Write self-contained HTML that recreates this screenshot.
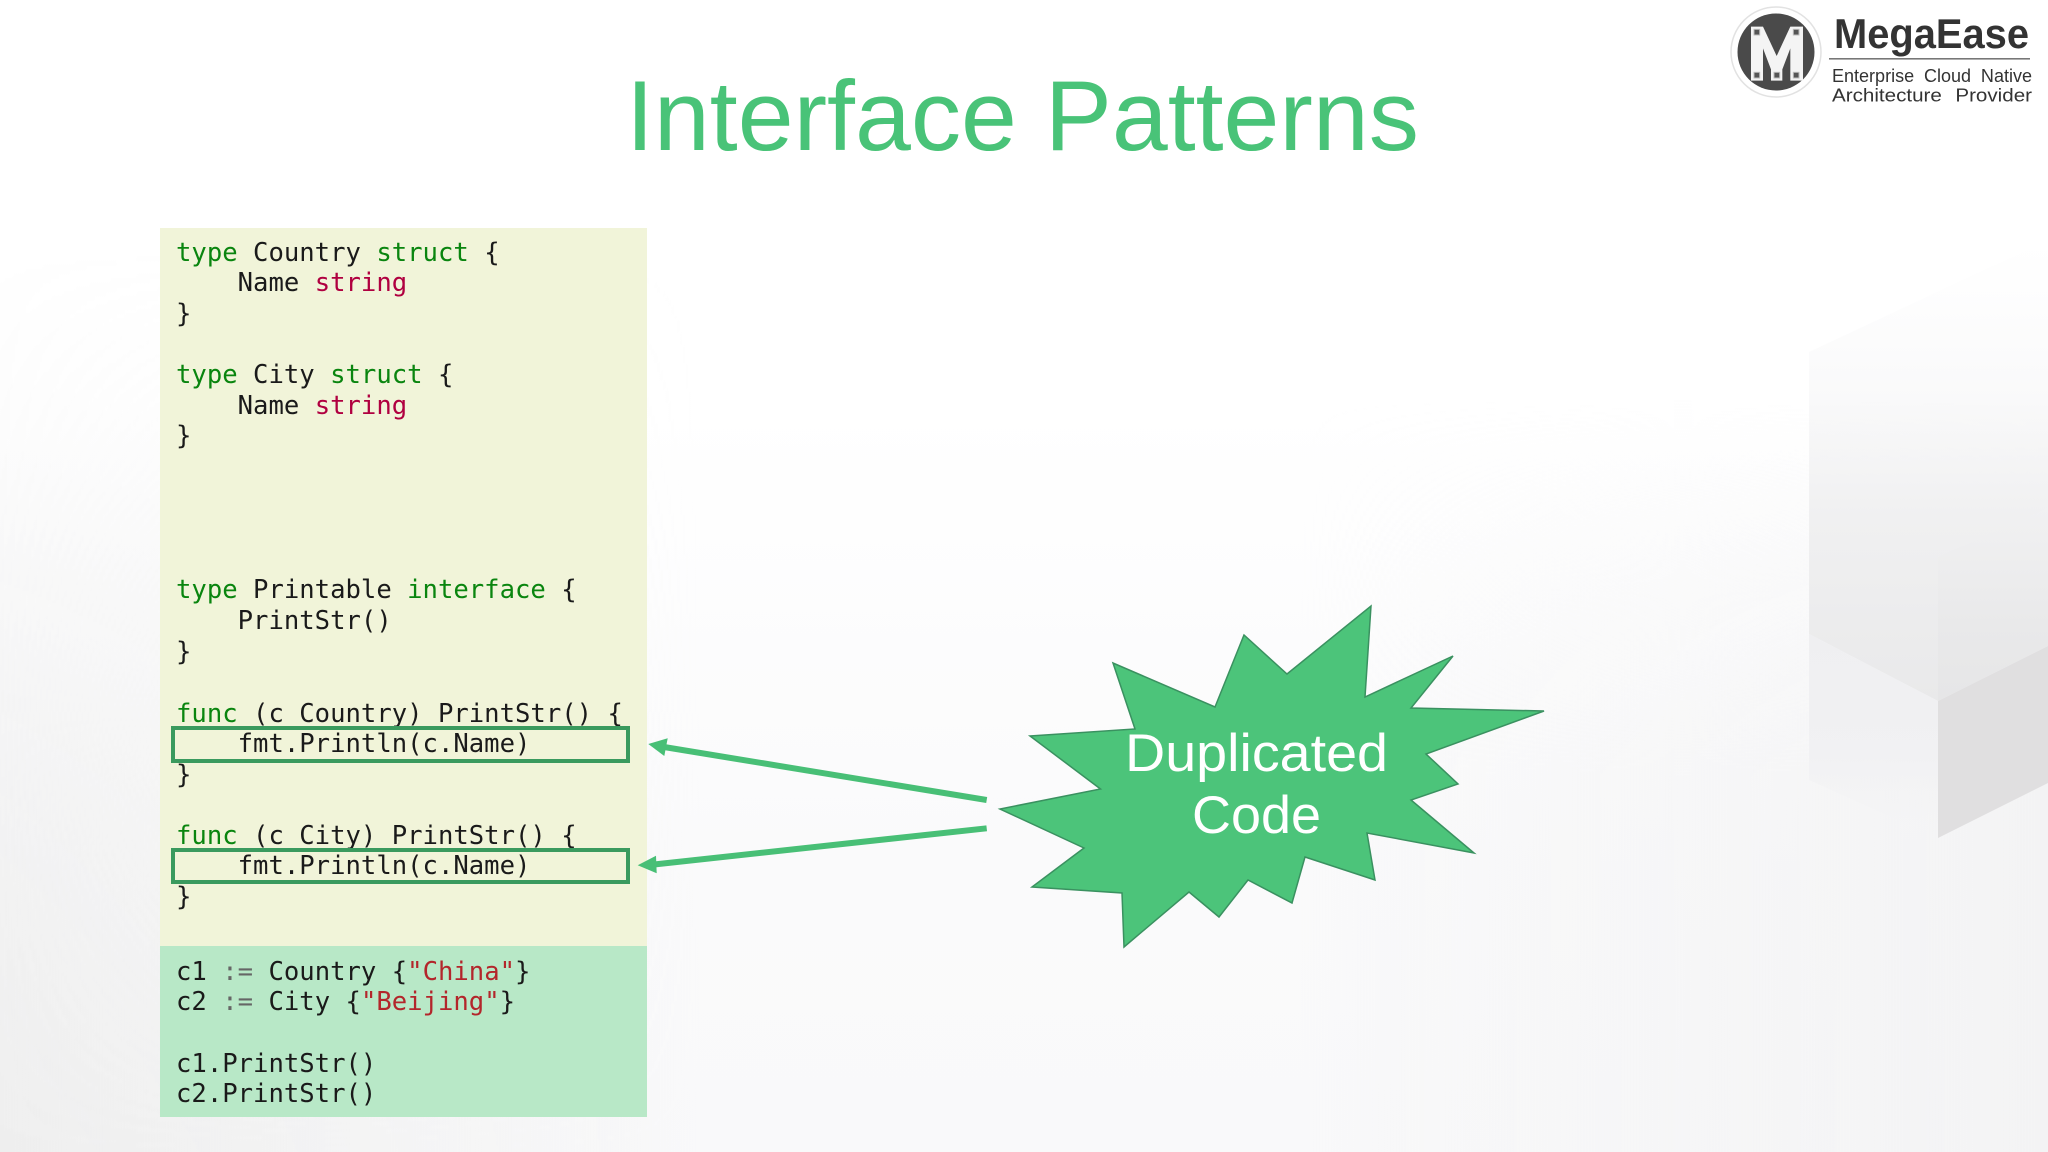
<!DOCTYPE html>
<html>
<head>
<meta charset="utf-8">
<style>
html,body{margin:0;padding:0;background:#fff;}
body{width:2048px;height:1152px;overflow:hidden;}
svg{display:block;}
.c{font-family:"DejaVu Sans Mono","Liberation Mono",monospace;font-size:25.6px;fill:#1a1a1a;white-space:pre;}
.k{fill:#0a850f;}
.t{fill:#b00040;}
.s{fill:#b3262b;}
.o{fill:#666;}
.g{fill:#49c378;}
.sans{font-family:"Liberation Sans",sans-serif;}
</style>
</head>
<body>
<svg width="2048" height="1152" viewBox="0 0 2048 1152" xmlns="http://www.w3.org/2000/svg">
<defs>
<linearGradient id="bg" x1="0" y1="0" x2="0" y2="1">
<stop offset="0" stop-color="#ffffff"/><stop offset="0.35" stop-color="#ffffff"/><stop offset="0.75" stop-color="#fafafb"/><stop offset="1" stop-color="#f9f9fa"/>
</linearGradient>
<linearGradient id="lft" x1="0" y1="0" x2="1" y2="0">
<stop offset="0" stop-color="#eeeeee" stop-opacity="1"/><stop offset="1" stop-color="#eeeeee" stop-opacity="0"/>
</linearGradient>
<linearGradient id="lftV" x1="0" y1="0" x2="0" y2="1">
<stop offset="0" stop-color="#000"/><stop offset="0.25" stop-color="#333"/><stop offset="0.6" stop-color="#999"/><stop offset="1" stop-color="#fff"/>
</linearGradient>
<mask id="lm"><rect x="0" y="250" width="700" height="902" fill="url(#lftV)"/></mask>
<linearGradient id="rgt" x1="0" y1="0" x2="1" y2="0">
<stop offset="0" stop-color="#f3f3f4" stop-opacity="0"/><stop offset="1" stop-color="#f3f3f4" stop-opacity="1"/>
</linearGradient>
<linearGradient id="rgtV" x1="0" y1="0" x2="0" y2="1">
<stop offset="0" stop-color="#000"/><stop offset="0.5" stop-color="#fff"/><stop offset="1" stop-color="#fff"/>
</linearGradient>
<mask id="rm"><rect x="1300" y="400" width="748" height="752" fill="url(#rgtV)"/></mask>
<linearGradient id="f1" x1="0" y1="0" x2="0" y2="1">
<stop offset="0" stop-color="#f9f9fa" stop-opacity="0"/><stop offset="0.3" stop-color="#f7f7f8" stop-opacity="0.6"/><stop offset="0.6" stop-color="#f0f0f1"/><stop offset="1" stop-color="#e9e9ea"/>
</linearGradient>
<linearGradient id="f2" x1="0" y1="0" x2="0" y2="1">
<stop offset="0" stop-color="#f1f1f2"/><stop offset="0.6" stop-color="#e9e9ea"/><stop offset="1" stop-color="#e6e6e7"/>
</linearGradient>
<linearGradient id="f3" x1="0" y1="0" x2="0" y2="1">
<stop offset="0" stop-color="#efeff1"/><stop offset="0.6" stop-color="#f1f1f3"/><stop offset="1" stop-color="#f4f4f5" stop-opacity="0"/>
</linearGradient>
</defs>

<!-- background -->
<rect width="2048" height="1152" fill="url(#bg)"/>
<rect x="0" y="250" width="700" height="902" fill="url(#lft)" mask="url(#lm)"/>
<rect x="1300" y="400" width="748" height="752" fill="url(#rgt)" mask="url(#rm)"/>
<polygon points="1809,352 2048,240 2048,520 1938,557 1938,701 1809,634" fill="url(#f1)"/>
<polygon points="1938,557 2048,508 2048,646 1938,701" fill="url(#f2)"/>
<polygon points="1809,634 1938,701 1938,838 1809,780" fill="url(#f3)"/>
<polygon points="1938,701 2048,646 2048,783 1938,838" fill="#e0dfe0"/>

<!-- title -->
<text class="sans g" x="626" y="150" font-size="99" textLength="793" lengthAdjust="spacingAndGlyphs">Interface Patterns</text>

<!-- logo -->
<circle cx="1776" cy="52" r="45" fill="#ffffff" stroke="#e2e2e2" stroke-width="1.5"/>
<circle cx="1776" cy="52" r="38.5" fill="#4a4a4a"/>
<g transform="translate(1725,0) scale(0.3333)">
<polygon points="78,80 114,80 155,168 196,80 234,80 234,242 196,242 196,145 172,208 172,242 138,242 138,208 114,145 114,242 78,242" fill="#f4f4f4"/>
<g fill="#555" stroke="#bbb" stroke-width="3">
<rect x="87" y="88" width="17" height="17"/>
<rect x="205" y="88" width="17" height="17"/>
<rect x="87" y="217" width="17" height="17"/>
<rect x="147" y="217" width="17" height="17"/>
<rect x="205" y="217" width="17" height="17"/>
</g>
</g>
<text class="sans" x="1834" y="48" font-size="42" font-weight="700" fill="#333" textLength="195" lengthAdjust="spacingAndGlyphs">MegaEase</text>
<rect x="1829" y="58" width="201" height="1.6" fill="#777"/>
<text class="sans" x="1832" y="82" font-size="18.5" fill="#333" word-spacing="5" textLength="200" lengthAdjust="spacingAndGlyphs">Enterprise Cloud Native</text>
<text class="sans" x="1832" y="101.5" font-size="18.5" fill="#333" word-spacing="7" textLength="200" lengthAdjust="spacingAndGlyphs">Architecture Provider</text>

<!-- panels -->
<rect x="160" y="228" width="487" height="718" fill="#f1f4d9"/>
<rect x="160" y="946" width="487" height="171" fill="#b8e8c7"/>

<!-- code -->
<text class="c" x="176" y="261"><tspan class="k">type</tspan> Country <tspan class="k">struct</tspan> {</text>
<text class="c" x="176" y="291">    Name <tspan class="t">string</tspan></text>
<text class="c" x="176" y="322">}</text>
<text class="c" x="176" y="383"><tspan class="k">type</tspan> City <tspan class="k">struct</tspan> {</text>
<text class="c" x="176" y="414">    Name <tspan class="t">string</tspan></text>
<text class="c" x="176" y="444">}</text>
<text class="c" x="176" y="598"><tspan class="k">type</tspan> Printable <tspan class="k">interface</tspan> {</text>
<text class="c" x="176" y="629">    PrintStr()</text>
<text class="c" x="176" y="660">}</text>
<text class="c" x="176" y="722"><tspan class="k">func</tspan> (c Country) PrintStr() {</text>
<text class="c" x="176" y="752">    fmt.Println(c.Name)</text>
<text class="c" x="176" y="783">}</text>
<text class="c" x="176" y="844"><tspan class="k">func</tspan> (c City) PrintStr() {</text>
<text class="c" x="176" y="874">    fmt.Println(c.Name)</text>
<text class="c" x="176" y="905">}</text>
<text class="c" x="176" y="980">c1 <tspan class="o">:=</tspan> Country {<tspan class="s">"China"</tspan>}</text>
<text class="c" x="176" y="1010">c2 <tspan class="o">:=</tspan> City {<tspan class="s">"Beijing"</tspan>}</text>
<text class="c" x="176" y="1072">c1.PrintStr()</text>
<text class="c" x="176" y="1102">c2.PrintStr()</text>

<!-- highlight boxes -->
<rect x="173" y="728" width="455" height="33" fill="none" stroke="#3a9a5e" stroke-width="4"/>
<rect x="173" y="850" width="455" height="32" fill="none" stroke="#3a9a5e" stroke-width="4"/>

<!-- arrows -->
<line x1="986.7" y1="800" x2="664" y2="747" stroke="#48bf76" stroke-width="6"/>
<polygon points="648.3,744 667.7,738.3 664.3,756" fill="#48bf76"/>
<line x1="986.7" y1="828.3" x2="654" y2="864.5" stroke="#48bf76" stroke-width="6"/>
<polygon points="637.7,865.3 656,855.7 656.7,873.3" fill="#48bf76"/>

<!-- burst -->
<polygon points="1371,606 1365,697 1453,656 1411,708 1544,711 1426,754 1458,784 1411,800 1474,853 1367,833 1375,880 1305,857 1292,903 1248,880 1219,917 1189,892 1124,947 1122,893 1032,887 1084,848 1000,809 1100.5,789 1030,736 1135,729 1113,663 1215,707 1244,635 1287,674" fill="#4cc47a" stroke="#3a9160" stroke-width="1.5" stroke-linejoin="miter"/>
<text class="sans" x="1125" y="771" font-size="53" fill="#ffffff" textLength="263" lengthAdjust="spacingAndGlyphs">Duplicated</text>
<text class="sans" x="1192" y="833" font-size="53" fill="#ffffff" textLength="129" lengthAdjust="spacingAndGlyphs">Code</text>
</svg>
</body>
</html>
